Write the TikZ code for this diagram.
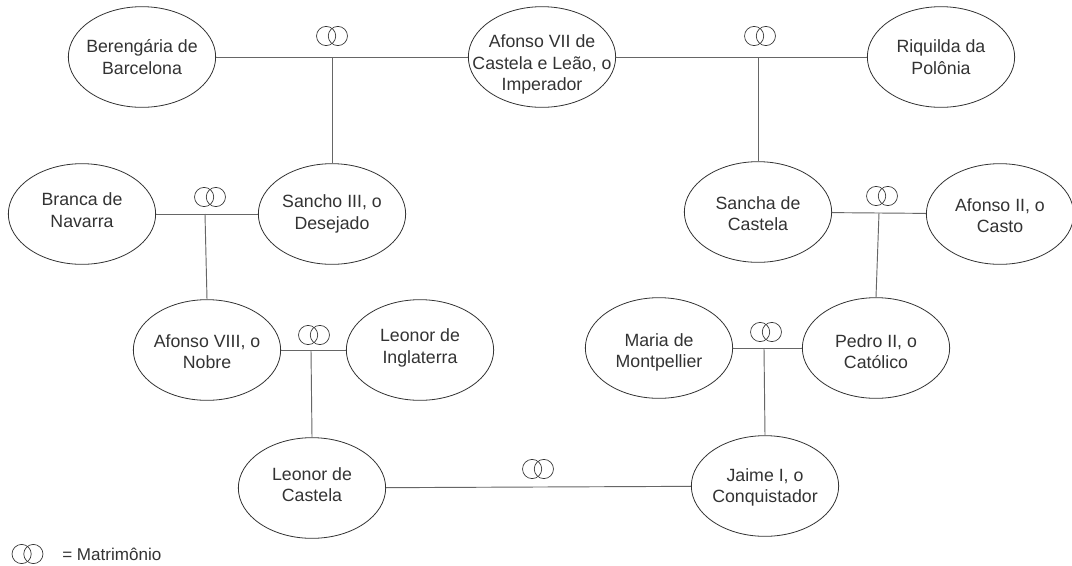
\documentclass[tikz,border=0pt]{standalone}
\usepackage{fontspec}
\setmainfont{Liberation Sans}
\usetikzlibrary{shapes.geometric}
\definecolor{inkgray}{gray}{0.2}
\definecolor{linegray}{gray}{0.4}
\tikzset{
  person/.style={ellipse,draw=inkgray,line width=0.6pt,minimum width=110.5pt,minimum height=75.5pt,inner sep=-14pt,align=center,font=\fontsize{13.3}{16}\selectfont,text=inkgray},
  link/.style={draw=linegray,line width=0.7pt},
  rings/.pic={
    \draw[inkgray,line width=0.5pt] (-4.4pt,0) circle (7.2pt);
    \draw[inkgray,line width=0.5pt] (4.4pt,0) circle (7.2pt);
  }
}
\begin{document}
\begin{tikzpicture}[x=0.75pt,y=-0.75pt]
  \useasboundingbox[fill=white] (0,0) rectangle (1072,565);
  \node[person] (berengaria) at (142,57) {Berengária de\\Barcelona};
  \node[person] (afonsoVII) at (542,57) {\rule{0pt}{21pt}Afonso VII de\\Castela e Leão, o\\Imperador};
  \node[person] (riquilda) at (941,57) {Riquilda da\\Polônia};
  \node[person] (branca) at (82,214) {Branca de\\Navarra\rule[-6pt]{0pt}{6pt}};
  \node[person] (sancho) at (332,214) {Sancho III, o\\Desejado};
  \node[person] (sancha) at (758,212) {\rule{0pt}{12pt}Sancha de\\Castela};
  \node[person] (afonsoII) at (1000,214) {\rule{0pt}{12pt}Afonso II, o\\Casto};
  \node[person] (afonsoVIII) at (207,350) {\rule{0pt}{12pt}Afonso VIII, o\\Nobre};
  \node[person] (leonorI) at (420,350) {Leonor de\\Inglaterra\rule[-6pt]{0pt}{6pt}};
  \node[person] (maria) at (659,348) {\rule{0pt}{16pt}Maria de\\Montpellier};
  \node[person] (pedro) at (876,348) {\rule{0pt}{15pt}Pedro II, o\\Católico};
  \node[person] (leonorC) at (312,488) {Leonor de\\Castela\rule[-5pt]{0pt}{5pt}};
  \node[person] (jaime) at (765,486) {\rule{0pt}{12pt}Jaime I, o\\Conquistador};

  \coordinate (casA) at (332,57);
  \coordinate (casB) at (758,57);
  \coordinate (casC) at (205,214);
  \coordinate (casD) at (879,213);
  \coordinate (casE) at (311,350);
  \coordinate (casF) at (764,348);

  \draw[link] (berengaria) -- (afonsoVII);
  \draw[link] (afonsoVII) -- (riquilda);
  \draw[link] (branca) -- (sancho);
  \draw[link] (sancha) -- (afonsoII);
  \draw[link] (afonsoVIII) -- (leonorI);
  \draw[link] (maria) -- (pedro);
  \draw[link] (leonorC) -- (jaime);
  \draw[link] (casA) -- (sancho.north);
  \draw[link] (casB) -- (sancha.north);
  \draw[link] (casC) -- (afonsoVIII.north);
  \draw[link] (casD) -- (pedro.north);
  \draw[link] (casE) -- (leonorC.north);
  \draw[link] (casF) -- (jaime.north);

  \foreach \x/\y in {332/36,760/36,210/197,882/196,314/335,766/332,538/469,27.5/554}
    \pic at (\x,\y) {rings};

  \node[anchor=west,inner sep=0pt,text=inkgray,font=\fontsize{12.8}{15}\selectfont] (legend) at (62,554) {= Matrimônio};
\end{tikzpicture}
\end{document}
